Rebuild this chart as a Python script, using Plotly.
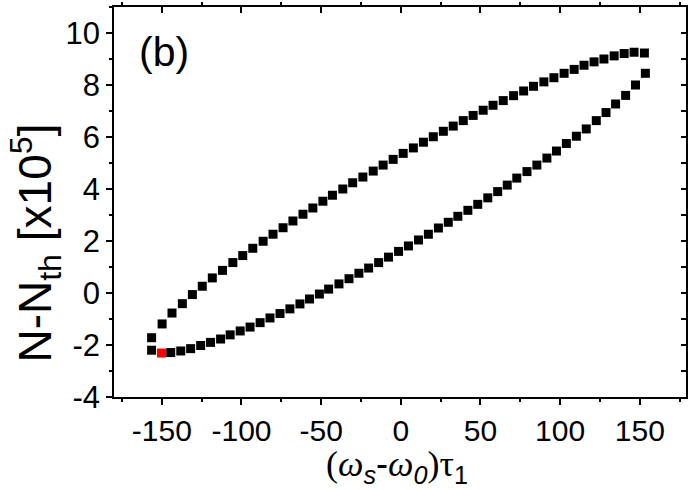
import plotly.graph_objects as go

# ---- data ----
upper_x = [-156.4, -149.8, -143.6, -137.1, -130.8, -124.6, -118.3, -111.9, -105.4, -99.2,
           -92.9, -86.4, -80.2, -73.9, -67.7, -61.4, -55.2, -48.9, -42.9, -36.4,
           -30.2, -23.8, -17.3, -11.1, -4.8, 1.5, 7.9, 14.2, 20.4, 26.7,
           32.9, 39.2, 45.4, 51.7, 57.9, 64.3, 70.8, 77.1, 83.3, 89.8,
           96.1, 102.5, 108.8, 115.0, 121.3, 127.5, 133.9, 140.2, 146.4, 152.9]
upper_y = [-1.72, -1.19, -0.77, -0.41, -0.06, 0.26, 0.58, 0.87, 1.17, 1.44,
           1.72, 1.99, 2.26, 2.51, 2.77, 3.03, 3.27, 3.53, 3.76, 4.00,
           4.24, 4.46, 4.69, 4.92, 5.14, 5.37, 5.58, 5.80, 6.01, 6.22,
           6.42, 6.63, 6.83, 7.03, 7.22, 7.40, 7.59, 7.77, 7.95, 8.12,
           8.28, 8.45, 8.60, 8.76, 8.89, 9.00, 9.12, 9.21, 9.26, 9.23]

lower_x = [-156.4, -144.4, -138.1, -131.9, -125.6, -119.4, -113.1, -107.1, -100.8, -94.6,
           -88.3, -82.1, -75.8, -69.6, -63.3, -57.3, -51.1, -45.3, -38.8, -32.5,
           -26.3, -20.2, -13.9, -7.7, -1.4, 4.8, 11.1, 17.3, 23.6, 29.8,
           35.8, 42.1, 48.3, 54.6, 60.8, 66.8, 72.8, 79.2, 85.4, 91.7,
           97.7, 103.9, 110.2, 116.4, 122.7, 128.8, 134.8, 141.1, 147.3, 153.5]
lower_y = [-2.20, -2.29, -2.23, -2.14, -2.02, -1.90, -1.77, -1.61, -1.46, -1.31,
           -1.14, -0.96, -0.79, -0.61, -0.42, -0.23, -0.04, 0.15, 0.35, 0.55,
           0.76, 0.96, 1.17, 1.38, 1.60, 1.81, 2.04, 2.26, 2.50, 2.72,
           2.95, 3.18, 3.41, 3.66, 3.90, 4.15, 4.42, 4.67, 4.92, 5.19,
           5.46, 5.75, 6.03, 6.31, 6.63, 6.94, 7.27, 7.60, 8.00, 8.45]

red_x = [-150.2]
red_y = [-2.31]

x_tick_vals = [-150, -100, -50, 0, 50, 100, 150]
x_tick_text = ["-150", "-100", "-50", "0", "50", "100", "150"]
x_minor_vals = [-175, -125, -75, -25, 25, 75, 125, 175]
y_tick_vals = [-4, -2, 0, 2, 4, 6, 8, 10]
y_tick_text = ["-4", "-2", "0", "2", "4", "6", "8", "10"]
y_minor_vals = [-3, -1, 1, 3, 5, 7, 9, 11]

X_RANGE = [-180, 179]
Y_RANGE = [-4, 11]

SANS = "Liberation Sans, Arial, sans-serif"
SERIF = "Liberation Serif"

fig = go.Figure()
mk = dict(symbol="square", size=9, color="black", line=dict(width=0))
fig.add_trace(go.Scatter(x=upper_x, y=upper_y, mode="markers", marker=mk, showlegend=False))
fig.add_trace(go.Scatter(x=lower_x, y=lower_y, mode="markers", marker=mk, showlegend=False))
fig.add_trace(go.Scatter(x=red_x, y=red_y, mode="markers",
                         marker=dict(symbol="square", size=9, color="#ff0000", line=dict(width=0)),
                         showlegend=False))
fig.add_trace(go.Scatter(x=[], y=[], xaxis="x2", yaxis="y2", showlegend=False))

axis_common = dict(showgrid=False, zeroline=False, showline=True, linecolor="black",
                   linewidth=1.5, tickcolor="black", tickwidth=1.5)

fig.update_layout(
    width=692, height=490,
    margin=dict(l=114, r=6, t=7, b=93),
    paper_bgcolor="white", plot_bgcolor="white",
    font=dict(family=SANS, color="black"),
    xaxis=dict(range=X_RANGE, tickvals=x_tick_vals, ticktext=x_tick_text,
               ticks="outside", ticklen=6,
               minor=dict(tickvals=x_minor_vals, ticks="outside", ticklen=3,
                          tickcolor="black", tickwidth=1.5),
               tickfont=dict(size=30, family=SANS), **axis_common),
    yaxis=dict(range=Y_RANGE, tickvals=y_tick_vals, ticktext=y_tick_text,
               ticks="outside", ticklen=6,
               minor=dict(tickvals=y_minor_vals, ticks="outside", ticklen=3,
                          tickcolor="black", tickwidth=1.5),
               tickfont=dict(size=31, family=SANS), **axis_common),
    xaxis2=dict(range=X_RANGE, overlaying="x", side="top", anchor="y",
                tickvals=x_tick_vals, ticks="inside", ticklen=6, showticklabels=False,
                minor=dict(tickvals=x_minor_vals, ticks="outside", ticklen=3,
                           tickcolor="black", tickwidth=1.5),
                **axis_common),
    yaxis2=dict(range=Y_RANGE, overlaying="y", side="right", anchor="x",
                tickvals=y_tick_vals, ticks="inside", ticklen=5, showticklabels=False,
                minor=dict(tickvals=y_minor_vals, ticks="inside", ticklen=5,
                           tickcolor="black", tickwidth=1.5),
                **axis_common),
)

fig.add_annotation(text="(b)", xref="paper", yref="paper", x=0.0874, y=0.884,
                   xanchor="center", yanchor="middle", showarrow=False,
                   font=dict(size=41, family=SANS, color="black"))

fig.add_annotation(text="N-N<sub>th</sub> [x10<sup>5</sup>]", textangle=-90,
                   xref="paper", yref="paper", x=-0.137, y=0.395,
                   xanchor="center", yanchor="middle", showarrow=False,
                   font=dict(size=46, family=SANS, color="black"))

xtitle = ('<span style="font-family:Liberation Serif">(<i>ω</i></span>'
          '<sub><i>s</i></sub>-'
          '<span style="font-family:Liberation Serif"><i>ω</i></span>'
          '<sub><i>0</i></sub>'
          '<span style="font-family:Liberation Serif">)τ</span>'
          '<sub>1</sub>')
fig.add_annotation(text=xtitle, xref="paper", yref="paper", x=0.495, y=-0.177,
                   xanchor="center", yanchor="middle", showarrow=False,
                   font=dict(size=36, family=SANS, color="black"))

fig.write_html("out.html")
